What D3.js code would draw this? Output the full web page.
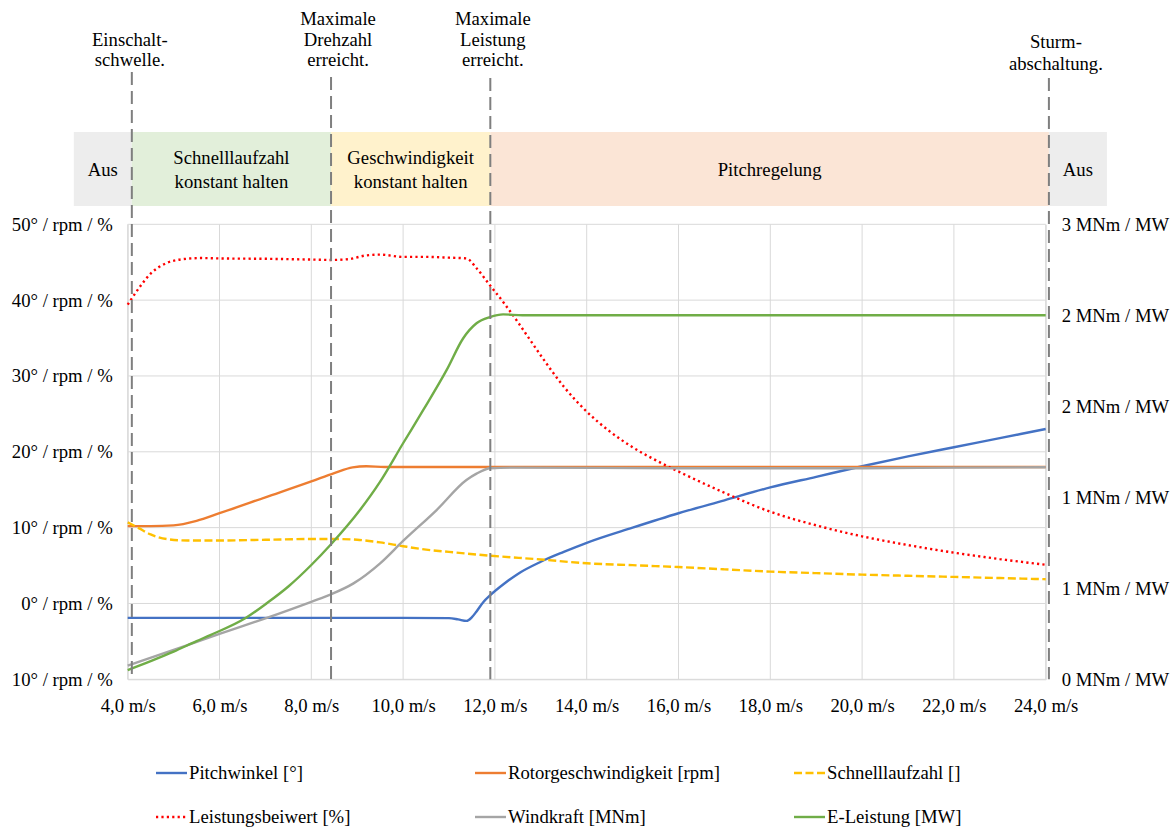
<!DOCTYPE html>
<html lang="de">
<head>
<meta charset="utf-8">
<title>Betriebsbereiche einer Windenergieanlage</title>
<script src="https://cdn.jsdelivr.net/npm/d3@7"></script>
<style>
  html, body { margin: 0; padding: 0; background: #ffffff; }
</style>
</head>
<body>
<svg id="chart" width="1176" height="828"></svg>
<script>
// Windgeschwindigkeit [m/s] -> Messwert
const pitchwinkel = [
  [4, -1.9], [5, -1.9], [6, -1.9], [7, -1.9], [8, -1.9], [9, -1.9], [10, -1.9], [11, -1.93],
  [11.2, -2.1], [11.38, -2.3], [11.5, -1.8], [11.6, -1.05], [11.75, 0.2], [11.9, 1.1],
  [12.2, 2.6], [12.5, 3.9], [13, 5.5], [13.5, 6.8], [14, 8.0], [15, 10.0], [16, 11.9],
  [17, 13.6], [18, 15.3], [19, 16.7], [20, 18.1], [21, 19.4], [22, 20.6], [23, 21.8], [24, 23.0]
];
const rotorgeschwindigkeit = [
  [4, 10.2], [4.5, 10.2], [5, 10.3], [5.5, 10.9], [6, 11.9], [7, 14.0], [8, 16.1], [8.5, 17.2],
  [8.9, 17.95], [9.2, 18.1], [9.6, 18.0], [12, 18.0], [16, 18.0], [20, 18.0], [24, 18.0]
];
const schnelllaufzahl = [
  [4, 10.7], [4.25, 9.9], [4.5, 9.1], [4.85, 8.5], [5.3, 8.3], [6, 8.3], [7, 8.4], [8, 8.5],
  [8.5, 8.5], [9, 8.4], [9.5, 8.05], [10, 7.55], [10.5, 7.1], [11, 6.8], [11.9, 6.3], [13, 5.8],
  [14, 5.3], [15, 5.05], [16, 4.8], [17, 4.5], [18, 4.2], [19, 4.0], [20, 3.8], [21, 3.65],
  [22, 3.5], [23, 3.35], [24, 3.2]
];
const leistungsbeiwert = [
  [4, 39.4], [4.27, 41.8], [4.5, 43.5], [4.85, 44.9], [5.2, 45.4], [5.6, 45.55], [6, 45.5],
  [7, 45.45], [8, 45.35], [8.43, 45.3], [8.8, 45.4], [9.2, 45.9], [9.5, 46.0], [10, 45.7],
  [10.5, 45.7], [11, 45.6], [11.38, 45.5], [11.6, 44.2], [11.9, 41.9], [12.2, 39.6],
  [12.5, 37.1], [12.75, 34.9], [13, 32.7], [13.5, 28.6], [14, 25.3], [14.5, 22.7], [15, 20.6],
  [15.5, 18.9], [16, 17.4], [17, 14.6], [18, 12.1], [19, 10.3], [20, 8.85], [21, 7.7],
  [22, 6.7], [23, 5.85], [24, 5.1]
];
const windkraft = [
  [4, 0.075], [5, 0.162], [6, 0.249], [7, 0.335], [8, 0.426], [8.43, 0.467], [8.92, 0.527],
  [9.5, 0.637], [10, 0.76], [10.73, 0.93], [11.38, 1.095], [11.6, 1.13], [11.9, 1.16],
  [12.4, 1.163], [16, 1.16], [20, 1.16], [22, 1.163], [24, 1.165]
];
const eLeistung = [
  [4, 0.051], [4.5, 0.1], [5, 0.152], [5.5, 0.21], [5.8, 0.243], [6.56, 0.335], [7.03, 0.418],
  [7.5, 0.51], [8, 0.628], [8.43, 0.742], [9.06, 0.93], [9.5, 1.086], [10, 1.297], [10.44, 1.48],
  [10.95, 1.70], [11.31, 1.874], [11.6, 1.956], [11.89, 1.99], [12.18, 2.005], [12.6, 2.0], [24, 2.0]
];

// Achsen
const xTicks = [4, 6, 8, 10, 12, 14, 16, 18, 20, 22, 24];
const xTickLabels = ["4,0 m/s", "6,0 m/s", "8,0 m/s", "10,0 m/s", "12,0 m/s", "14,0 m/s",
                     "16,0 m/s", "18,0 m/s", "20,0 m/s", "22,0 m/s", "24,0 m/s"];
const leftTicks = [-10, 0, 10, 20, 30, 40, 50];
const leftTickLabels = ["10° / rpm / %", "0° / rpm / %", "10° / rpm / %", "20° / rpm / %",
                        "30° / rpm / %", "40° / rpm / %", "50° / rpm / %"];
const rightTicks = [0, 0.5, 1, 1.5, 2, 2.5];
const rightTickLabels = ["0 MNm / MW", "1 MNm / MW", "1 MNm / MW", "2 MNm / MW", "2 MNm / MW", "3 MNm / MW"];

// Betriebspunkte (Windgeschwindigkeit) und Bereiche
const markerSpeeds = [4.09, 8.43, 11.9, 24.07];
const markerLabels = [
  ["Einschalt-", "schwelle."],
  ["Maximale", "Drehzahl", "erreicht."],
  ["Maximale", "Leistung", "erreicht."],
  ["Sturm-", "abschaltung."]
];
const phaseLabels = [
  ["Aus"],
  ["Schnelllaufzahl", "konstant halten"],
  ["Geschwindigkeit", "konstant halten"],
  ["Pitchregelung"],
  ["Aus"]
];
const phaseColors = ["#ededed", "#e2efda", "#fff2cc", "#fbe5d6", "#ededed"];

const seriesNames = ["Pitchwinkel [°]", "Rotorgeschwindigkeit [rpm]", "Schnelllaufzahl []",
                     "Leistungsbeiwert [%]", "Windkraft [MNm]", "E-Leistung [MW]"];

// ---- Zeichnung ----
const FONT = "Liberation Serif, DejaVu Serif, Times New Roman, serif";
const fontSize = 18.7;
const svg = d3.select("#chart")
  .attr("font-family", FONT)
  .attr("font-size", fontSize);
const plot = { left: 127.7, right: 1045.7, top: 224.3, bottom: 679.3 };

const x = d3.scaleLinear().domain([4, 24]).range([plot.left, plot.right]);
const yL = d3.scaleLinear().domain([-10, 50]).range([plot.bottom, plot.top]);
const yR = d3.scaleLinear().domain([0, 2.5]).range([plot.bottom, plot.top]);

function label(sel) {
  return sel.style("font-family", FONT).style("font-size", fontSize + "px").attr("fill", "#000");
}

// Bereichsbalken oben
const boxTop = 132, boxBottom = 206, outerPad = 58;
const markerX = markerSpeeds.map(v => x(v));
const bounds = [markerX[0] - outerPad, ...markerX, markerX[3] + outerPad];
const phases = svg.append("g");
phaseLabels.forEach((lines, i) => {
  const x0 = bounds[i], x1 = bounds[i + 1];
  phases.append("rect")
    .attr("x", x0).attr("y", boxTop)
    .attr("width", x1 - x0).attr("height", boxBottom - boxTop)
    .attr("fill", phaseColors[i]);
  const cy = (boxTop + boxBottom) / 2;
  const lh = 24;
  lines.forEach((t, j) => {
    phases.append("text")
      .attr("x", (x0 + x1) / 2)
      .attr("y", cy + (j - (lines.length - 1) / 2) * lh + 7)
      .attr("text-anchor", "middle")
      .call(label)
      .text(t);
  });
});

// Gitternetz
const grid = svg.append("g").attr("stroke", "#d9d9d9").attr("stroke-width", 1);
grid.selectAll("line.h").data(leftTicks).join("line")
  .attr("x1", plot.left).attr("x2", plot.right)
  .attr("y1", d => yL(d)).attr("y2", d => yL(d));
grid.selectAll("line.v").data(xTicks).join("line")
  .attr("x1", d => x(d)).attr("x2", d => x(d))
  .attr("y1", plot.top).attr("y2", plot.bottom);

// Achsen
const xAxis = svg.append("g")
  .attr("transform", `translate(0,${plot.bottom})`)
  .call(d3.axisBottom(x).tickValues(xTicks).tickSize(0).tickPadding(15)
        .tickFormat((d, i) => xTickLabels[i]));
const leftAxis = svg.append("g")
  .attr("transform", `translate(${plot.left},0)`)
  .call(d3.axisLeft(yL).tickValues(leftTicks).tickSize(0).tickPadding(15)
        .tickFormat((d, i) => leftTickLabels[i]));
const rightAxis = svg.append("g")
  .attr("transform", `translate(${plot.right},0)`)
  .call(d3.axisRight(yR).tickValues(rightTicks).tickSize(0).tickPadding(16)
        .tickFormat((d, i) => rightTickLabels[i]));
[xAxis, leftAxis, rightAxis].forEach(a => {
  a.attr("font-family", FONT).attr("font-size", fontSize);
  a.select(".domain").attr("stroke", "#d9d9d9");
  a.selectAll("text").call(label);
});
xAxis.selectAll("text").attr("dy", "0.95em");

// Kurven
const series = [
  { data: pitchwinkel, y: yL, color: "#4472c4", dash: null },
  { data: rotorgeschwindigkeit, y: yL, color: "#ed7d31", dash: null },
  { data: schnelllaufzahl, y: yL, color: "#ffc000", dash: "8,3.5" },
  { data: leistungsbeiwert, y: yL, color: "#ff0000", dash: "2.2,3.2" },
  { data: windkraft, y: yR, color: "#a5a5a5", dash: null },
  { data: eLeistung, y: yR, color: "#70ad47", dash: null }
];
const lines = svg.append("g").attr("fill", "none");
series.forEach(s => {
  const gen = d3.line().x(d => x(d[0])).y(d => s.y(d[1])).curve(d3.curveMonotoneX);
  lines.append("path")
    .attr("d", gen(s.data))
    .attr("stroke", s.color)
    .attr("stroke-width", 2.4)
    .attr("stroke-dasharray", s.dash)
    .attr("stroke-linejoin", "round");
});

// Markierungen der Betriebspunkte
const markerTextOffsets = [-2, 7, 2.5, 7];
const markerStartY = [72, 77, 78, 78];
const markerBaselines = [[46, 66], [25, 46, 66], [25, 46, 66], [48, 70]];
const marks = svg.append("g");
markerSpeeds.forEach((v, i) => {
  marks.append("line")
    .attr("x1", x(v)).attr("x2", x(v))
    .attr("y1", markerStartY[i]).attr("y2", plot.bottom)
    .attr("stroke", "#7f7f7f").attr("stroke-width", 2)
    .attr("stroke-dasharray", "13,6");
  markerLabels[i].forEach((t, j) => {
    marks.append("text")
      .attr("x", x(v) + markerTextOffsets[i])
      .attr("y", markerBaselines[i][j])
      .attr("text-anchor", "middle")
      .call(label)
      .text(t);
  });
});

// Legende
const legendCols = [156, 475, 794];
const legendRows = [779, 823];
const legend = svg.append("g");
series.forEach((s, i) => {
  const lx = legendCols[i % 3], ly = legendRows[Math.floor(i / 3)];
  legend.append("line")
    .attr("x1", lx).attr("x2", lx + 31)
    .attr("y1", ly - 6).attr("y2", ly - 6)
    .attr("stroke", s.color).attr("stroke-width", 2.4)
    .attr("stroke-dasharray", s.dash);
  legend.append("text")
    .attr("x", lx + 33).attr("y", ly)
    .call(label)
    .text(seriesNames[i]);
});
</script>
</body>
</html>
